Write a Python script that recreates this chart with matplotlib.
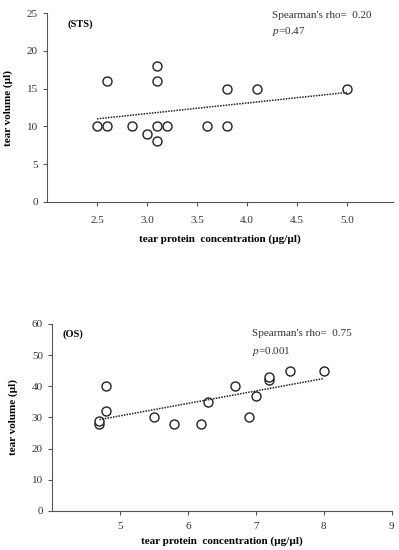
import matplotlib
matplotlib.use("Agg")
import matplotlib.pyplot as plt

plt.rcParams['font.family'] = ['Liberation Serif', 'DejaVu Serif']
plt.rcParams['mathtext.fontset'] = 'custom'
plt.rcParams['mathtext.it'] = 'Liberation Serif:italic'
plt.rcParams['mathtext.rm'] = 'Liberation Serif'

# STS panel data
sts_protein = [2.5, 2.6, 2.6, 2.85, 3.0, 3.1, 3.1, 3.1, 3.1, 3.2, 3.6, 3.8, 3.8, 4.1, 5.0]
sts_volume = [10, 10, 16, 10, 9, 8, 10, 16, 18, 10, 10, 10, 15, 15, 15]
sts_trend_x = [2.5, 5.0]
sts_trend_y = [11.0, 14.5]

# OS panel data
os_protein = [4.7, 4.7, 4.8, 4.8, 5.5, 5.8, 6.2, 6.3, 6.7, 6.9, 7.0, 7.2, 7.2, 7.5, 8.0]
os_volume = [28, 29, 32, 40, 30, 28, 28, 35, 40, 30, 37, 42, 43, 45, 45]
os_trend_x = [4.7, 8.0]
os_trend_y = [29.3, 42.5]

sts_xticks = [2.5, 3.0, 3.5, 4.0, 4.5, 5.0]
sts_xlabels = ["2.5", "3.0", "3.5", "4.0", "4.5", "5.0"]
sts_yticks = [0, 5, 10, 15, 20, 25]
os_xticks = [5, 6, 7, 8, 9]
os_yticks = [0, 10, 20, 30, 40, 50, 60]

fig = plt.figure(figsize=(3.99, 5.5), dpi=100)
fig.patch.set_facecolor('white')

ax1 = fig.add_axes([0.118, 0.633, 0.867, 0.343])
ax2 = fig.add_axes([0.130, 0.071, 0.852, 0.340])


def style_axis(ax):
    for side in ['top', 'right']:
        ax.spines[side].set_visible(False)
    for side in ['left', 'bottom']:
        ax.spines[side].set_color('#555555')
        ax.spines[side].set_linewidth(0.8)
    ax.tick_params(axis='both', direction='out', length=3, width=0.8,
                   colors='#555555', labelsize=8, labelcolor='#333333')


# top panel
ax1.plot(sts_protein, sts_volume, linestyle='none', marker='o', markersize=6.5,
         markerfacecolor='white', markeredgecolor='#222222', markeredgewidth=1.0)
ax1.plot(sts_trend_x, sts_trend_y, linestyle=(0, (1, 0.8)), color='#222222', linewidth=1.1)
ax1.set_xlim(2.0, 5.46)
ax1.set_ylim(0, 25)
ax1.set_xticks(sts_xticks)
ax1.set_xticklabels(sts_xlabels)
ax1.set_yticks(sts_yticks)
style_axis(ax1)
ax1.tick_params(axis='x', pad=7)
ax1.set_ylabel('tear volume (µl)', fontsize=8, fontweight='bold', labelpad=10)
ax1.set_xlabel('tear protein  concentration (µg/µl)', fontsize=8, fontweight='bold', labelpad=7)
ax1.text(0.06, 0.93, '(STS)', transform=ax1.transAxes, fontsize=7.5, fontweight='bold')
ax1.text(0.65, 0.975, "Spearman's rho=  0.20", transform=ax1.transAxes, fontsize=8, color='#333333')
ax1.text(0.65, 0.89, "$\\it{p}$=0.47", transform=ax1.transAxes, fontsize=8, color='#333333')

# bottom panel
ax2.plot(os_protein, os_volume, linestyle='none', marker='o', markersize=6.5,
         markerfacecolor='white', markeredgecolor='#222222', markeredgewidth=1.0)
ax2.plot(os_trend_x, os_trend_y, linestyle=(0, (1, 0.8)), color='#222222', linewidth=1.1)
ax2.set_xlim(4, 9)
ax2.set_ylim(0, 60)
ax2.set_xticks(os_xticks)
ax2.set_yticks(os_yticks)
style_axis(ax2)
ax2.tick_params(axis='x', pad=5)
ax2.set_ylabel('tear volume (µl)', fontsize=8, fontweight='bold', labelpad=10)
ax2.set_xlabel('tear protein  concentration (µg/µl)', fontsize=8, fontweight='bold', labelpad=4)
ax2.text(0.03, 0.93, '(OS)', transform=ax2.transAxes, fontsize=7.5, fontweight='bold')
ax2.text(0.59, 0.935, "Spearman's rho=  0.75", transform=ax2.transAxes, fontsize=8, color='#333333')
ax2.text(0.59, 0.84, "$\\it{p}$=0.001", transform=ax2.transAxes, fontsize=8, color='#333333')

plt.savefig('out.png', dpi=100, facecolor='white')
plt.close()
